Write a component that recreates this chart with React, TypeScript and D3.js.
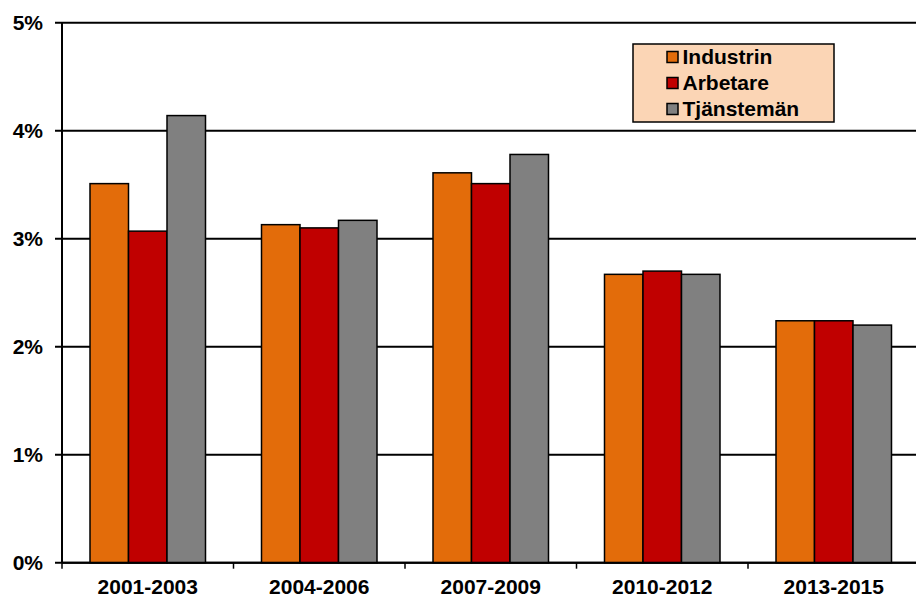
import React from "react";
import * as d3 from "d3";

const categories = ["2001-2003", "2004-2006", "2007-2009", "2010-2012", "2013-2015"];
const seriesNames = ["Industrin", "Arbetare", "Tjänstemän"];
const industrin = [3.51, 3.13, 3.61, 2.67, 2.24];
const arbetare = [3.07, 3.10, 3.51, 2.70, 2.24];
const tjansteman = [4.14, 3.17, 3.78, 2.67, 2.20];
const yTicks = [0, 1, 2, 3, 4, 5];
const colors = ["#E36C0A", "#C00000", "#808080"];

export default function App() {
  const W = 916, H = 598;
  const left = 62, right = 62 + 171.5 * 5, top = 22.7, bottom = 562.7;
  const series = [industrin, arbetare, tjansteman];
  const x = d3.scaleBand<string>().domain(categories).range([left, right]).paddingInner(0).paddingOuter(0);
  const inner = d3.scaleBand<number>().domain([0, 1, 2]).range([28, x.bandwidth() - 28]);
  const y = d3.scaleLinear().domain([0, 5]).range([bottom, top]);
  const font = "Liberation Sans, Arial, sans-serif";
  return (
    <svg width={W} height={H} style={{ position: "absolute", left: 0, top: 0 }}>
      <rect x={0} y={0} width={W} height={H} fill="#fff" />
      {yTicks.map((t) => (
        <g key={t}>
          <line x1={left - 7} x2={W} y1={y(t)} y2={y(t)} stroke="#000" strokeWidth={2} />
          <text x={43} y={y(t) + 7} textAnchor="end" fontFamily={font} fontWeight="bold" fontSize={21}>
            {t}%
          </text>
        </g>
      ))}
      {categories.map((c, i) => (
        <g key={c}>
          {series.map((s, j) => (
            <rect
              key={j}
              x={(x(c) as number) + (inner(j) as number)}
              y={y(s[i])}
              width={inner.bandwidth()}
              height={bottom - y(s[i])}
              fill={colors[j]}
              stroke="#000"
              strokeWidth={1.5}
            />
          ))}
          <text
            x={(x(c) as number) + x.bandwidth() / 2}
            y={594}
            textAnchor="middle"
            fontFamily={font}
            fontWeight="bold"
            fontSize={21}
          >
            {c}
          </text>
        </g>
      ))}
      {d3.range(categories.length + 1).map((k) => (
        <line key={k} x1={left + x.step() * k} x2={left + x.step() * k} y1={bottom} y2={bottom + 6} stroke="#000" strokeWidth={1.5} />
      ))}
      <line x1={left} x2={left} y1={top} y2={bottom} stroke="#000" strokeWidth={2} />
      <line x1={left} x2={W} y1={bottom} y2={bottom} stroke="#000" strokeWidth={2} />
      <g>
        <rect x={633} y={44} width={201} height={78} fill="#FBD5B5" stroke="#000" strokeWidth={1.5} />
        {seriesNames.map((n, j) => (
          <g key={n}>
            <rect x={667} y={51.5 + j * 26} width={11} height={11} fill={colors[j]} stroke="#000" strokeWidth={1.5} />
            <text x={682.5} y={64 + j * 26} fontFamily={font} fontWeight="bold" fontSize={21}>
              {n}
            </text>
          </g>
        ))}
      </g>
    </svg>
  );
}
